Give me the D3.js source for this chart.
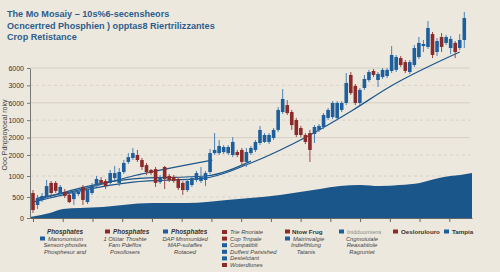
<!DOCTYPE html>
<html>
<head>
<meta charset="utf-8">
<script src="https://cdn.jsdelivr.net/npm/d3@7"></script>
<style>
  html, body { margin: 0; padding: 0; background: #ece8de; }
  svg { display: block; font-family: "Liberation Sans", Arial, sans-serif; }
</style>
</head>
<body>
<svg id="chart" width="500" height="272"></svg>
<script>
    // title lines, as printed
    const titleLines = [
        "The Mo Mosaiy  \u2013  10s%6-secensheors",
        "Ocncertred Phosphien ) opptas8 Riertrilizzantes",
        "Crop Retistance"
    ]
    const yTitle = "Ooo Pdnpsoyoeal roky"

    // y ticks (labels as printed, one per gridline level)
    const yTickLevels = [0, 1, 2, 3, 4, 5, 6, 7, 8]
    const yTickLabels = ["0", "500", "1000", "2000", "2000", "1000", "6000", "3000", "6000"]

    // candles: [open, high, low, close] in tick-level units
    const candles = [
        [1.19, 1.33, 0.24, 0.38], [0.62, 1.10, 0.43, 0.95], [0.86, 1.19, 0.76, 1.05], [1.00, 1.81, 0.90, 1.52],
        [1.67, 1.76, 1.05, 1.19], [1.67, 1.76, 1.19, 1.29], [1.19, 1.57, 1.10, 1.48], [1.24, 1.38, 0.95, 1.05],
        [1.10, 1.19, 0.71, 0.76], [0.90, 1.24, 0.62, 1.19], [1.14, 1.38, 1.05, 1.24], [1.48, 1.57, 0.62, 0.86],
        [0.76, 1.43, 0.67, 1.33], [1.19, 1.67, 1.10, 1.57], [1.57, 2.00, 1.48, 1.86], [1.81, 1.95, 1.57, 1.67],
        [1.76, 1.86, 1.38, 1.52], [1.67, 2.29, 1.52, 2.14], [1.90, 2.48, 1.81, 2.14], [1.67, 2.38, 1.52, 2.19],
        [2.19, 2.76, 2.10, 2.62], [2.67, 3.11, 2.57, 2.90], [2.86, 3.40, 2.76, 3.11], [3.00, 3.29, 2.67, 2.76],
        [2.76, 2.86, 2.29, 2.43], [2.52, 2.62, 2.05, 2.19], [2.29, 2.33, 2.05, 2.14], [2.33, 2.43, 1.48, 1.67],
        [1.71, 2.05, 1.62, 1.95], [2.43, 2.48, 1.38, 1.86], [2.00, 2.10, 1.71, 1.81], [1.95, 2.05, 1.67, 1.76],
        [1.86, 1.95, 1.33, 1.43], [1.67, 1.76, 1.10, 1.33], [1.33, 1.86, 1.24, 1.76], [1.57, 2.00, 1.48, 1.90],
        [1.81, 2.24, 1.71, 2.14], [1.76, 2.43, 1.67, 1.95], [1.81, 2.24, 1.52, 2.14], [2.19, 3.34, 2.10, 3.11],
        [3.11, 4.26, 3.00, 3.29], [3.11, 3.86, 3.00, 3.52], [3.17, 3.57, 3.06, 3.46], [3.11, 3.57, 3.00, 3.46],
        [3.00, 4.03, 2.90, 3.75], [3.17, 3.29, 2.90, 3.00], [3.29, 3.40, 2.48, 2.67], [2.67, 3.40, 2.43, 3.17],
        [3.11, 3.52, 3.00, 3.40], [3.29, 3.86, 3.17, 3.75], [3.69, 4.67, 3.57, 4.44], [3.75, 4.26, 3.69, 4.15],
        [3.75, 4.26, 3.63, 4.15], [3.98, 4.55, 3.86, 4.44], [4.44, 5.76, 4.32, 5.59], [5.47, 6.79, 5.36, 6.22],
        [5.87, 6.16, 5.30, 5.41], [5.47, 5.59, 4.44, 4.72], [5.01, 5.13, 4.03, 4.15], [4.55, 4.67, 4.03, 4.15],
        [4.15, 4.26, 3.63, 3.75], [4.26, 4.44, 2.67, 3.29], [4.21, 4.72, 3.69, 4.61], [4.44, 4.78, 4.32, 4.67],
        [4.61, 5.41, 4.49, 5.30], [5.13, 5.70, 5.01, 5.59], [5.18, 6.10, 5.07, 5.99], [5.13, 6.10, 5.01, 5.99],
        [5.59, 6.10, 5.47, 5.99], [5.99, 7.71, 5.87, 7.14], [7.60, 7.77, 6.45, 6.56], [6.97, 7.08, 5.87, 5.99],
        [5.99, 6.85, 5.87, 6.74], [6.85, 7.60, 6.74, 7.37], [7.31, 7.89, 7.20, 7.77], [7.83, 7.94, 7.48, 7.60],
        [7.31, 7.77, 6.91, 7.66], [7.48, 8.00, 7.37, 7.89], [7.54, 8.00, 7.43, 7.89], [7.83, 9.26, 7.71, 8.75],
        [7.89, 8.75, 7.77, 8.63], [8.57, 8.69, 8.06, 8.17], [8.34, 8.46, 7.71, 7.83], [7.77, 8.46, 7.66, 8.34],
        [8.17, 9.32, 8.06, 9.15], [8.63, 9.78, 8.52, 9.44], [9.26, 9.61, 8.92, 9.38], [9.21, 10.70, 9.09, 10.30],
        [9.95, 10.07, 8.57, 8.75], [8.92, 9.72, 8.69, 9.55], [9.78, 10.01, 8.92, 9.21], [9.44, 9.90, 9.32, 9.78],
        [9.15, 9.84, 8.80, 9.67], [9.44, 9.55, 8.57, 8.92], [9.15, 9.95, 9.03, 9.61], [9.61, 11.22, 9.15, 10.87]
    ]

    // trend lines: [candle index, level]
    const trendUpper = [[1, 0.95], [10, 1.33], [22, 2.00], [39.5, 2.76]]
    const trendMiddle = [[1, 0.86], [22, 1.86], [38, 2.00], [48, 2.71]]
    const trendMain = [[0, 0.76], [22, 1.71], [38, 1.90], [48, 2.62], [61, 4.15], [70.5, 5.59], [78.5, 6.91], [94, 8.92]]

    // filled base series: [candle index, level]
    const baseArea = [
        [-0.66, 0.05], [3.7, 0.24], [6.6, 0.43], [10.4, 0.48], [15.4, 0.52], [19.8, 0.62], [26.4, 0.71],
        [33.9, 0.71], [38.3, 0.76], [42.7, 0.86], [47.8, 0.95], [54.4, 1.10], [58.8, 1.24], [63.2, 1.38],
        [67.6, 1.52], [72.0, 1.57], [76.4, 1.52], [80.8, 1.57], [85.2, 1.67], [88.5, 1.86], [91.9, 2.00],
        [94.1, 2.05], [96.7, 2.14]
    ]

    const xTickCount = 15

    const blue = "#1d5f9c"
    const red = "#8c2a2a"
    const navy = "#1b568a"

    let svg = d3.select("#chart")

    let x = d3.scaleLinear().domain([-0.66, 96.7]).range([30, 472])
    let y = d3.scaleLinear().domain([0, 3, 8]).range([218, 155, 68])

    // title
    svg.append("g")
        .selectAll("text")
        .data(titleLines)
        .enter()
        .append("text")
        .attr("x", 7)
        .attr("y", (d, i) => 17 + i * 11.6)
        .attr("fill", "#2d5d8c")
        .attr("font-size", 9.1)
        .attr("font-weight", "bold")
        .text(d => d)

    // gridlines
    svg.append("g")
        .selectAll("line")
        .data(yTickLevels.filter(d => d > 0))
        .enter()
        .append("line")
        .attr("x1", 30)
        .attr("x2", 470)
        .attr("y1", d => y(d))
        .attr("y2", d => y(d))
        .attr("stroke", d => d % 2 == 0 ? "#cfc9bd" : "#d3cdc2")
        .attr("stroke-width", 0.8)
        .attr("stroke-dasharray", d => (d % 2 == 0 && d >= 4) ? null : "3,3")

    // base area
    let area = d3.area()
        .x(d => x(d[0]))
        .y0(y(0))
        .y1(d => y(d[1]))
        .curve(d3.curveMonotoneX)

    svg.append("path")
        .datum(baseArea)
        .attr("d", area)
        .attr("fill", navy)

    // trend lines
    let line = d3.line()
        .x(d => x(d[0]))
        .y(d => y(d[1]))
        .curve(d3.curveMonotoneX)

    svg.append("g")
        .selectAll("path")
        .data([trendUpper, trendMiddle, trendMain])
        .enter()
        .append("path")
        .attr("d", line)
        .attr("fill", "none")
        .attr("stroke", navy)
        .attr("stroke-width", 1.2)

    // candles
    let candleGroup = svg.append("g")
    let candle = candleGroup.selectAll("g")
        .data(candles)
        .enter()
        .append("g")

    candle.append("line")
        .attr("x1", (d, i) => x(i))
        .attr("x2", (d, i) => x(i))
        .attr("y1", d => y(d[1]))
        .attr("y2", d => y(d[2]))
        .attr("stroke", d => d[3] >= d[0] ? "#4a80b3" : "#9a4a45")
        .attr("stroke-width", 1)

    candle.append("rect")
        .attr("x", (d, i) => x(i) - 1.8)
        .attr("width", 3.6)
        .attr("y", d => y(Math.max(d[0], d[3])))
        .attr("height", d => Math.max(1.2, y(Math.min(d[0], d[3])) - y(Math.max(d[0], d[3]))))
        .attr("fill", d => d[3] >= d[0] ? blue : red)

    // axes
    let yAxis = svg.append("g")
        .attr("transform", "translate(30,0)")
        .call(d3.axisLeft(y).tickValues(yTickLevels).tickFormat(d => yTickLabels[d]).tickSize(3).tickSizeOuter(0))
    yAxis.select(".domain").attr("stroke", "#777")
    yAxis.selectAll(".tick line").attr("stroke", "#777")
    yAxis.selectAll("text")
        .attr("font-size", 7)
        .attr("fill", "#333")
        .attr("font-family", "'Liberation Sans', Arial, sans-serif")

    let xAxis = svg.append("g")
        .attr("transform", "translate(0,218)")
        .call(d3.axisBottom(x).tickValues(d3.range(xTickCount).map(i => i * 6.55)).tickFormat("").tickSize(4).tickSizeOuter(0))
    xAxis.select(".domain").attr("stroke", "#666")
    xAxis.selectAll(".tick line").attr("stroke", "#666")

    svg.append("text")
        .attr("transform", "translate(7,135) rotate(-90)")
        .attr("text-anchor", "middle")
        .attr("font-size", 7)
        .attr("fill", "#444")
        .text(yTitle)

    // legend
    let legend = svg.append("g").attr("font-size", 5.8).attr("fill", "#444")

    function swatch(sx, sy, color) {
        legend.append("rect")
            .attr("x", sx).attr("y", sy)
            .attr("width", 5).attr("height", 4)
            .attr("fill", color)
    }
    function label(lx, ly, txt, opts) {
        opts = opts || {}
        legend.append("text")
            .attr("x", lx).attr("y", ly)
            .attr("text-anchor", opts.anchor || "start")
            .attr("font-style", opts.italic === false ? "normal" : "italic")
            .attr("font-weight", opts.bold ? "bold" : "normal")
            .attr("font-size", opts.size || 5.8)
            .attr("fill", opts.color || "#444")
            .text(txt)
    }

    const legendBlockA = ["Phosphates", "Manonomium", "Sensort-phoslies", "Phosphesur and"]
    const legendBlockB = ["Phosphates", "1 Ol\u00fctar Thoshte", "Fam Pdeffos", "Posollosers"]
    const legendBlockC = ["Phosphates", "DAP Mmmunlded", "MAP-sulaffes", "Rotaoed"]
    const legendList = ["Trie Rnoriate", "Cop Trnpale", "Compatiblt", "Duffent Pwisished", "Destelctant", "Woterdlones"]
    const legendListColors = [red, red, blue, blue, blue, red]
    const legendBlockE = ["Ntow Frug", "Matrinvalgie", "Indiefthlung", "Tatanis"]
    const legendBlockF = ["Inidduumiens", "Cngmoiuiale", "Reaxabtiole", "Ragruntet"]

    label(65, 233.5, legendBlockA[0], { anchor: "middle", bold: true, size: 6.4, color: "#333" })
    swatch(40, 236.5, blue)
    label(48, 240.5, legendBlockA[1])
    label(65, 247.2, legendBlockA[2], { anchor: "middle" })
    label(65, 254, legendBlockA[3], { anchor: "middle" })

    swatch(105, 229.5, red)
    label(113, 233.5, legendBlockB[0], { bold: true, size: 6.4, color: "#333" })
    label(125, 240.5, legendBlockB[1], { anchor: "middle" })
    label(125, 247.2, legendBlockB[2], { anchor: "middle" })
    label(125, 254, legendBlockB[3], { anchor: "middle" })

    swatch(163, 229.5, blue)
    label(171, 233.5, legendBlockC[0], { bold: true, size: 6.4, color: "#333" })
    label(185, 240.5, legendBlockC[1], { anchor: "middle" })
    label(185, 247.2, legendBlockC[2], { anchor: "middle" })
    label(185, 254, legendBlockC[3], { anchor: "middle" })

    legendList.forEach((t, i) => {
        swatch(222, 230 + i * 6.6, legendListColors[i])
        label(230, 234 + i * 6.6, t)
    })

    swatch(285, 229.5, red)
    label(292, 233.5, legendBlockE[0], { bold: true, italic: false, size: 6.2, color: "#333" })
    swatch(285, 236.5, blue)
    label(293, 240.5, legendBlockE[1])
    label(306, 247.2, legendBlockE[2], { anchor: "middle" })
    label(306, 254, legendBlockE[3], { anchor: "middle" })

    swatch(339, 229.5, blue)
    label(347, 233.5, legendBlockF[0], { italic: false, color: "#888" })
    label(362, 240.5, legendBlockF[1], { anchor: "middle" })
    label(362, 247.2, legendBlockF[2], { anchor: "middle" })
    label(362, 254, legendBlockF[3], { anchor: "middle" })

    swatch(393, 229.5, red)
    label(401, 233.5, "Oeslorulouro", { bold: true, italic: false, size: 6.2, color: "#333" })

    swatch(444, 229.5, blue)
    label(452, 233.5, "Tampia", { bold: true, italic: false, size: 6.2, color: "#333" })
</script>
</body>
</html>
